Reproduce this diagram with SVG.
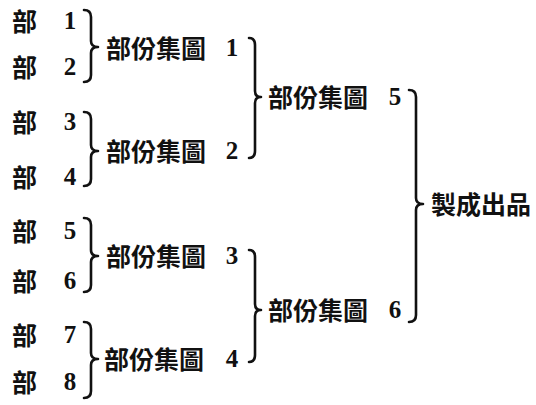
<svg xmlns="http://www.w3.org/2000/svg" width="536" height="405" viewBox="0 0 536 405">
<style>
text{font-family:"Liberation Serif","Noto Sans CJK TC","Noto Sans CJK SC",serif;font-weight:bold;fill:#111}
.c{font-size:25px}
.d{font-size:25px;text-anchor:middle}
.br{fill:none;stroke:#111;stroke-width:2.6;stroke-linecap:round;stroke-linejoin:round}
</style>
<rect width="536" height="405" fill="#fff"/>
<g id="connectors">
<path class="br" d="M84 10 Q91 10 91 17 L91 41 Q91 47 98 47 Q91 47 91 53 L91 75 Q91 82 84 82"/>
<path class="br" d="M84 112 Q91 112 91 119 L91 145 Q91 151 98 151 Q91 151 91 157 L91 179 Q91 186 84 186"/>
<path class="br" d="M84 218 Q91 218 91 225 L91 250 Q91 256 98 256 Q91 256 91 262 L91 285 Q91 292 84 292"/>
<path class="br" d="M84 322 Q91 322 91 329 L91 353 Q91 359 98 359 Q91 359 91 365 L91 391 Q91 398 84 398"/>
<path class="br" d="M249 38 Q255 38 255 45 L255 91 Q255 97 261 97 Q255 97 255 103 L255 151 Q255 158 249 158"/>
<path class="br" d="M249 250 Q255 250 255 257 L255 304 Q255 310 261 310 Q255 310 255 316 L255 355 Q255 362 249 362"/>
<path class="br" d="M409 90 Q416 90 416 97 L416 198 Q416 204 423 204 Q416 204 416 210 L416 315 Q416 322 409 322"/>
</g>
<g id="part1"><text class="c" x="12" y="31">部</text><text class="d" x="70" y="29">1</text></g>
<g id="part2"><text class="c" x="12" y="77">部</text><text class="d" x="70" y="75">2</text></g>
<g id="part3"><text class="c" x="12" y="132">部</text><text class="d" x="70" y="130">3</text></g>
<g id="part4"><text class="c" x="12" y="187">部</text><text class="d" x="70" y="185">4</text></g>
<g id="part5"><text class="c" x="12" y="241">部</text><text class="d" x="70" y="239">5</text></g>
<g id="part6"><text class="c" x="12" y="291">部</text><text class="d" x="70" y="289">6</text></g>
<g id="part7"><text class="c" x="12" y="345">部</text><text class="d" x="70" y="343">7</text></g>
<g id="part8"><text class="c" x="12" y="392">部</text><text class="d" x="70" y="390">8</text></g>
<g id="group1"><text class="c" x="106" y="58">部份集圖</text><text class="d" x="232" y="56">1</text></g>
<g id="group2"><text class="c" x="106" y="161">部份集圖</text><text class="d" x="232" y="159">2</text></g>
<g id="group3"><text class="c" x="106" y="266">部份集圖</text><text class="d" x="232" y="264">3</text></g>
<g id="group4"><text class="c" x="104" y="369">部份集圖</text><text class="d" x="232" y="367">4</text></g>
<g id="group5"><text class="c" x="268" y="107">部份集圖</text><text class="d" x="395" y="105">5</text></g>
<g id="group6"><text class="c" x="268" y="320">部份集圖</text><text class="d" x="395" y="318">6</text></g>
<g id="product"><text class="c" x="431" y="214">製成出品</text></g>
</svg>
